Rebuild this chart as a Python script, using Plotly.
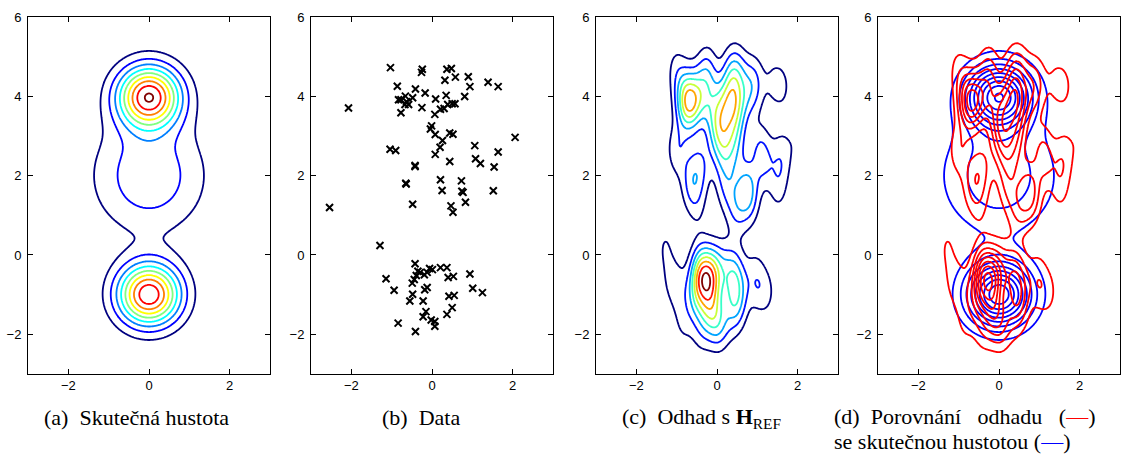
import numpy as np
import plotly.graph_objects as go

# ---------------- data (panel b) ----------------
data_x = [-1.03, -0.24, -0.26, 0.37, 0.48, 0.32, 0.58, 0.90, 1.39, 0.94, 1.64, -0.86, -0.41, -0.17,
          -0.66, 0.35, 0.81, -0.83, -0.77, -0.48, -0.63, -0.58, -0.67, 0.09, -0.77, -0.25, 0.50,
          0.57, 0.39, 0.30, 0.21, 0.07, -2.07, -0.01, -0.04, 0.08, 0.44, 0.52, 0.26, 0.20, 0.08,
          -1.04, -0.90, 1.06, 2.06, 1.64, 0.44, 1.08, 1.20, 1.54, -0.42, -0.42, 0.21, 0.73, -0.65,
          -0.64, 0.25, 0.74, 0.77, 1.52, 0.83, -0.48, 0.47, 0.52, -2.54,
          -1.29, -0.42, -1.14, -0.94, -0.35, -0.29, -0.39, -0.49, -0.44, -0.19, -0.12, -0.06, 0.01,
          0.21, 0.37, 0.40, 0.53, 0.94, 1.01, 1.25, -0.12, -0.18, -0.48, -0.55, -0.22, 0.42, 0.55,
          -0.15, -0.22, -0.02, 0.07, 0.07, 0.50, 0.37, -0.84, -0.41]
data_y = [4.73, 4.69, 4.61, 4.69, 4.71, 4.41, 4.49, 4.50, 4.36, 4.25, 4.25, 4.26, 4.19, 4.09,
          4.01, 4.03, 4.00, 3.92, 3.92, 3.97, 3.87, 3.80, 3.80, 3.94, 3.59, 3.72, 3.82,
          3.82, 3.80, 3.70, 3.68, 3.55, 3.71, 3.26, 3.18, 3.04, 3.08, 3.05, 2.89, 2.72, 2.54,
          2.67, 2.64, 2.76, 2.97, 2.60, 2.36, 2.43, 2.31, 2.22, 2.26, 2.23, 1.90, 1.87, 1.81,
          1.79, 1.63, 1.61, 1.58, 1.62, 1.33, 1.28, 1.24, 1.08, 1.20,
          0.24, -0.22, -0.60, -0.89, -0.41, -0.44, -0.52, -0.71, -0.62, -0.50, -0.44, -0.34, -0.37,
          -0.32, -0.32, -0.57, -0.54, -0.48, -0.84, -0.95, -0.82, -0.88, -0.99, -1.16, -1.16, -1.04, -1.02,
          -1.43, -1.56, -1.64, -1.80, -1.68, -1.33, -1.50, -1.72, -1.93]

# ---------------- true density (panel a): gaussian mixture parameters ----------------
mix_weight = [1 / 3, 1 / 3, 1 / 3]
mix_mean_x = [0.0, 0.0, 0.0]
mix_mean_y = [-1.0, 4.0, 2.0]
mix_sd_x = [0.55, 0.55, 0.95]
mix_sd_y = [0.55, 0.55, 1.0]

# ---------------- kernel estimate (panel c) bandwidths ----------------
kde_bw_x = 0.18
kde_bw_y = 0.48

contour_step = 0.02
x_ticks = [-2, 0, 2]
y_ticks = [-2, 0, 2, 4, 6]
x_range = [-3, 3]
y_range = [-3, 6]

NB = "\u00a0"
captions = ["(a)" + NB + " Skutečná hustota", "(b)" + NB + " Data", "(c)" + NB + " Odhad s <b>H</b><sub>REF</sub>"]
caption_d1 = ("(d)" + NB * 2 + "Porovnání" + NB * 3 + "odhadu" + NB * 3 +
              '(<span style="color:#ff0000">—</span>)')
caption_d2 = 'se skutečnou hustotou (<span style="color:#0000ff">—</span>)'

# ---------------- grids ----------------
gx = np.linspace(x_range[0], x_range[1], 241)
gy = np.linspace(y_range[0], y_range[1], 361)
GX, GY = np.meshgrid(gx, gy)

Z_true = np.zeros_like(GX)
for w, mx, my, sx, sy in zip(mix_weight, mix_mean_x, mix_mean_y, mix_sd_x, mix_sd_y):
    Z_true += w / (2 * np.pi * sx * sy) * np.exp(-0.5 * (((GX - mx) / sx) ** 2 + ((GY - my) / sy) ** 2))

dx = np.array(data_x)
dy = np.array(data_y)
Z_kde = np.zeros_like(GX)
for px, py in zip(dx, dy):
    Z_kde += np.exp(-0.5 * (((GX - px) / kde_bw_x) ** 2 + ((GY - py) / kde_bw_y) ** 2))
Z_kde /= len(dx) * 2 * np.pi * kde_bw_x * kde_bw_y

jet = [[0.0, "rgb(0,0,128)"], [0.125, "rgb(0,0,255)"], [0.375, "rgb(0,255,255)"],
       [0.625, "rgb(255,255,0)"], [0.875, "rgb(255,0,0)"], [1.0, "rgb(128,0,0)"]]


def contour(Z, xa, ya, cscale, width=1.8):
    zmax = float(Z.max())
    return go.Contour(
        x=gx, y=gy, z=Z, xaxis=xa, yaxis=ya,
        contours=dict(start=contour_step, end=zmax, size=contour_step, coloring="lines"),
        colorscale=cscale, zmin=0, zmax=zmax, line=dict(width=width),
        showscale=False, hoverinfo="skip")


fig = go.Figure()
fig.add_trace(contour(Z_true, "x", "y", jet))
fig.add_trace(go.Scatter(x=data_x, y=data_y, mode="markers", xaxis="x2", yaxis="y2",
                         marker=dict(symbol="x-thin", size=7, color="black",
                                     line=dict(width=2, color="black")),
                         showlegend=False, hoverinfo="skip"))
fig.add_trace(contour(Z_kde, "x3", "y3", jet))
fig.add_trace(contour(Z_true, "x4", "y4", [[0, "#0000ff"], [1, "#0000ff"]]))
fig.add_trace(contour(Z_kde, "x4", "y4", [[0, "#ff0000"], [1, "#ff0000"]]))

W, H = 1129, 457
panel_left = [28, 311, 596, 878]
panel_w = 242
top_px, bot_px = 10.5, 372.5

axis_style = dict(showline=True, linecolor="black", linewidth=1, mirror="ticks", ticks="inside",
                  ticklen=5, tickcolor="black", showgrid=False, zeroline=False,
                  tickfont=dict(family="Liberation Sans, Arial", size=13, color="black"))
layout = dict(width=W, height=H, margin=dict(l=0, r=0, t=0, b=0), plot_bgcolor="white",
              paper_bgcolor="white", showlegend=False)
for i, left in enumerate(panel_left):
    sfx = "" if i == 0 else str(i + 1)
    layout["xaxis" + sfx] = dict(domain=[left / W, (left + panel_w) / W], range=x_range,
                                 tickvals=x_ticks, anchor="y" + sfx, **axis_style)
    layout["yaxis" + sfx] = dict(domain=[1 - bot_px / H, 1 - top_px / H], range=y_range,
                                 tickvals=y_ticks, anchor="x" + sfx, ticklabelstandoff=3, **axis_style)
fig.update_layout(**layout)

cap_font = dict(family="Liberation Serif, Times New Roman, serif", size=22, color="black")
cap_centers = [136, 421, 701]
for txt, cx in zip(captions, cap_centers):
    fig.add_annotation(text=txt, x=cx / W, y=1 - 417 / H, xref="paper", yref="paper",
                       showarrow=False, xanchor="center", yanchor="middle", font=cap_font)
fig.add_annotation(text=caption_d1, x=832 / W, y=1 - 416 / H, xref="paper", yref="paper",
                   showarrow=False, xanchor="left", yanchor="middle", font=cap_font)
fig.add_annotation(text=caption_d2, x=832 / W, y=1 - 441.5 / H, xref="paper", yref="paper",
                   showarrow=False, xanchor="left", yanchor="middle", font=cap_font)

fig.write_html("out.html", config={"displayModeBar": False},
               post_script="document.body.style.margin='0';document.body.style.padding='0';")
